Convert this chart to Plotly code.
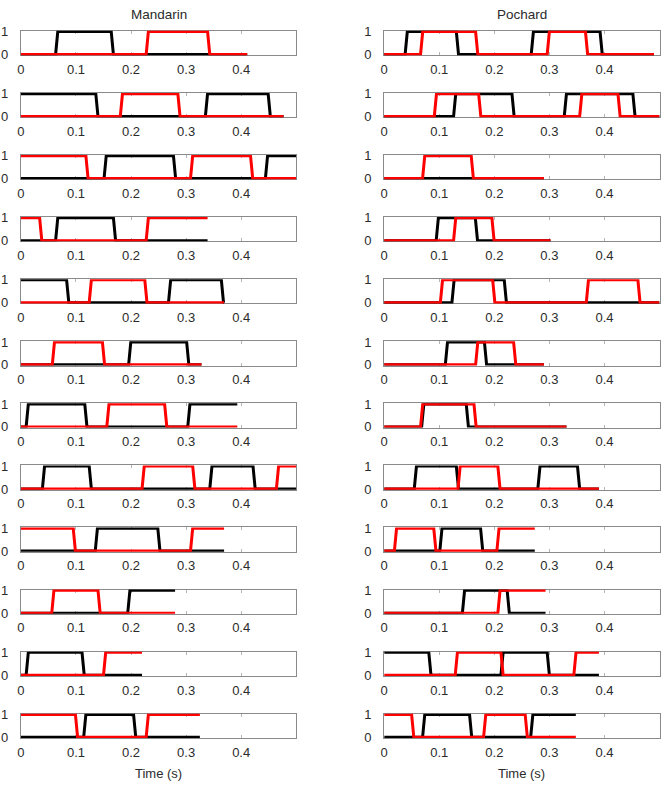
import plotly.graph_objects as go

# ---------------- data ----------------
species = ["Mandarin", "Pochard"]
x_tick_vals = [0, 0.1, 0.2, 0.3, 0.4]
x_tick_text = ["0", "0.1", "0.2", "0.3", "0.4"]
y_tick_vals = [0, 1]
y_tick_text = ["0", "1"]
x_label = "Time (s)"

# Mandarin: duration of each trial, initial state and switch times of each bird (black / red)
mandarin_duration = [0.411, 0.477, 0.5, 0.339, 0.369, 0.328, 0.393, 0.5, 0.369, 0.28, 0.22, 0.325]
mandarin_black_start = [0, 1, 0, 0, 1, 0, 0, 0, 0, 0, 0, 0]
mandarin_black_switch = [
    [0.065, 0.166],
    [0.138, 0.337, 0.451],
    [0.153, 0.279, 0.446],
    [0.065, 0.17],
    [0.085, 0.27, 0.366],
    [0.1976, 0.303],
    [0.0115, 0.118, 0.305],
    [0.041, 0.126, 0.345, 0.4235],
    [0.137, 0.2506],
    [0.196],
    [0.0115, 0.113],
    [0.116, 0.2066],
]
mandarin_red_start = [0, 0, 1, 1, 0, 0, 0, 0, 1, 0, 0, 1]
mandarin_red_switch = [
    [0.2295, 0.341],
    [0.1825, 0.287],
    [0.12, 0.31, 0.419],
    [0.036, 0.2295],
    [0.126, 0.227],
    [0.059, 0.15],
    [0.158, 0.263],
    [0.222, 0.314, 0.466],
    [0.097, 0.31],
    [0.058, 0.142],
    [0.152],
    [0.101, 0.2295],
]

# Pochard
pochard_duration = [0.49, 0.5, 0.29, 0.302, 0.5, 0.29, 0.331, 0.39, 0.2735, 0.293, 0.39, 0.348]
pochard_black_start = [0, 0, 0, 0, 0, 0, 0, 0, 0, 0, 1, 0]
pochard_black_switch = [
    [0.04, 0.133, 0.269, 0.394],
    [0.128, 0.234, 0.329, 0.4536],
    [],
    [0.0964, 0.1675],
    [0.125, 0.22],
    [0.113, 0.184],
    [0.07, 0.151],
    [0.0566, 0.133, 0.281, 0.353],
    [0.103, 0.177],
    [0.144, 0.2253],
    [0.083, 0.214, 0.298],
    [0.0717, 0.157, 0.268],
]
pochard_red_start = [0, 0, 0, 0, 0, 0, 0, 0, 0, 0, 0, 1]
pochard_red_switch = [
    [0.068, 0.168, 0.298, 0.3675],
    [0.093, 0.1735, 0.357, 0.4265],
    [0.0717, 0.16],
    [0.128, 0.1976],
    [0.104, 0.199, 0.369, 0.4627],
    [0.168, 0.237],
    [0.068, 0.165],
    [0.136, 0.2084],
    [0.0205, 0.092, 0.2066],
    [0.2084],
    [0.131, 0.214, 0.3464],
    [0.0518, 0.1825, 0.258],
]

ramp = 0.004  # sampling step of the state traces (s)

# ---------------- styling / geometry ----------------
W, H = 662, 789
col_left = [17.0, 382.5]
col_right = [294.0, 659.5]
row_top0 = 25.0
row_pitch = 63.2
box_h = 23.3
ypad = 0.03
FONT = "Liberation Sans, Arial, sans-serif"
TXT = "#2b2b2b"
AXC = "#8a8a8a"


def state_xy(start, switches, dur):
    xs, ys, s = [0.0], [start], start
    for t in switches:
        xs += [t - ramp / 2, t + ramp / 2]
        ys += [s, 1 - s]
        s = 1 - s
    xs.append(dur)
    ys.append(s)
    return xs, ys


fig = go.Figure()
datasets = [
    (mandarin_duration, mandarin_black_start, mandarin_black_switch, mandarin_red_start, mandarin_red_switch),
    (pochard_duration, pochard_black_start, pochard_black_switch, pochard_red_start, pochard_red_switch),
]

layout = {}
n = 0
for c, (dur, bst, bsw, rst, rsw) in enumerate(datasets):
    for r in range(len(dur)):
        n += 1
        xa = "x" if n == 1 else f"x{n}"
        ya = "y" if n == 1 else f"y{n}"
        bx, by = state_xy(bst[r], bsw[r], dur[r])
        rx, ry = state_xy(rst[r], rsw[r], dur[r])
        fig.add_trace(go.Scatter(x=bx, y=by, mode="lines", line=dict(color="black", width=3),
                                 xaxis=xa, yaxis=ya, showlegend=False, hoverinfo="skip"))
        fig.add_trace(go.Scatter(x=rx, y=ry, mode="lines", line=dict(color="#ff0000", width=3),
                                 xaxis=xa, yaxis=ya, showlegend=False, hoverinfo="skip"))
        top = row_top0 + r * row_pitch - ypad * box_h
        bot = row_top0 + r * row_pitch + box_h + ypad * box_h
        kx = "xaxis" if n == 1 else f"xaxis{n}"
        ky = "yaxis" if n == 1 else f"yaxis{n}"
        layout[kx] = dict(
            domain=[col_left[c] / W, col_right[c] / W], anchor=ya, range=[0, 0.5],
            tickvals=x_tick_vals, ticktext=x_tick_text, ticks="inside", ticklen=3,
            tickcolor="#b5b5b5", showline=True, linecolor=AXC, linewidth=1, mirror="ticks",
            showgrid=False, zeroline=False, layer="below traces", fixedrange=True,
            tickfont=dict(family=FONT, size=13, color=TXT), ticklabelstandoff=2,
        )
        layout[ky] = dict(
            domain=[1 - bot / H, 1 - top / H], anchor=xa, range=[-ypad, 1 + ypad],
            tickvals=y_tick_vals, ticktext=y_tick_text, ticks="", showline=True,
            linecolor=AXC, linewidth=1, mirror=True, showgrid=False, zeroline=False,
            layer="below traces", fixedrange=True,
            tickfont=dict(family=FONT, size=13, color=TXT), ticklabelstandoff=9,
        )

annotations = []
for c, name in enumerate(species):
    cx = (col_left[c] + col_right[c]) / 2 / W
    annotations.append(dict(text=name, x=cx, y=1 - 7.5 / H, xref="paper", yref="paper",
                            xanchor="center", yanchor="middle", showarrow=False,
                            font=dict(family=FONT, size=13.5, color=TXT)))
    annotations.append(dict(text=x_label, x=cx, y=1 - 780 / H, xref="paper", yref="paper",
                            xanchor="center", yanchor="middle", showarrow=False,
                            font=dict(family=FONT, size=13, color=TXT)))

fig.update_layout(
    width=W, height=H, margin=dict(l=0, r=0, t=0, b=0),
    paper_bgcolor="white", plot_bgcolor="white",
    annotations=annotations, **layout,
)

fig.write_html("out.html", config={"displayModeBar": False})
